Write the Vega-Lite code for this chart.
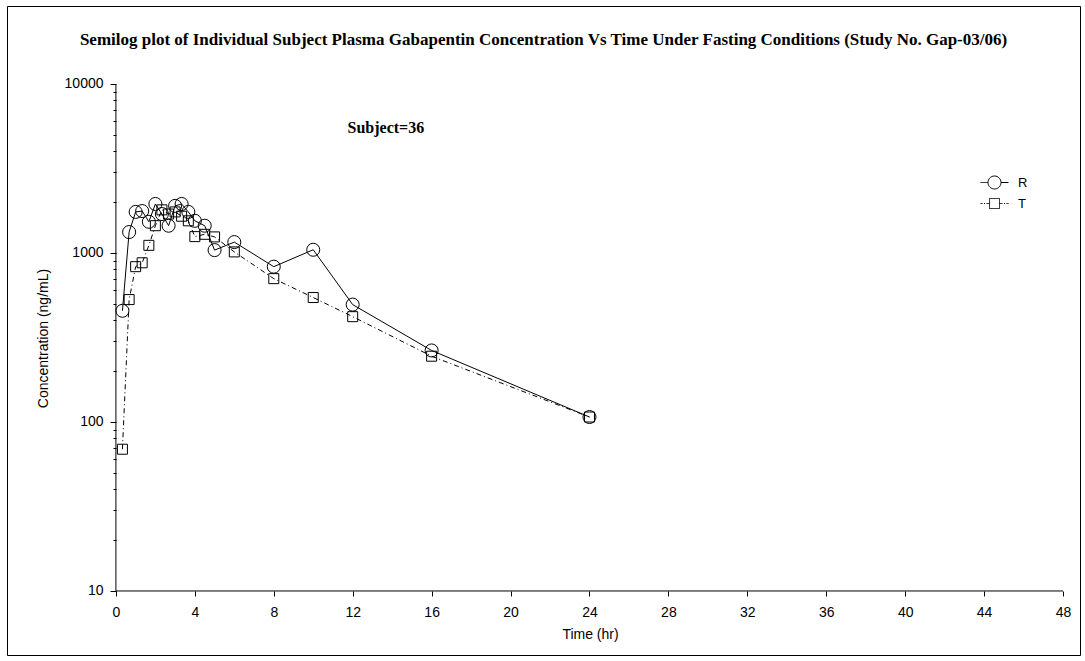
{
  "$schema": "https://vega.github.io/schema/vega-lite/v6.json",
  "width": 1073,
  "height": 649,
  "autosize": {"type": "none"},
  "padding": {"left": 7, "top": 6, "right": 5, "bottom": 6},
  "background": "white",
  "title": {
    "text": "Semilog plot of Individual Subject Plasma Gabapentin Concentration Vs Time Under Fasting Conditions (Study No. Gap-03/06)",
    "font": "Liberation Serif",
    "fontSize": 17,
    "fontWeight": "bold",
    "color": "black",
    "anchor": "middle",
    "offset": -43
  },
  "config": {
    "view": {"stroke": "black", "strokeWidth": 1},
    "axis": {
      "domainColor": "black",
      "tickColor": "black",
      "labelColor": "black",
      "titleColor": "black",
      "labelFont": "Liberation Sans",
      "titleFont": "Liberation Sans",
      "labelFontSize": 14,
      "titleFontSize": 14,
      "titleFontWeight": "normal",
      "grid": false
    }
  },
  "data": {
    "values": [
      {"series": "R", "time": 0.33, "conc": 455},
      {"series": "R", "time": 0.67, "conc": 1330},
      {"series": "R", "time": 1, "conc": 1750},
      {"series": "R", "time": 1.33, "conc": 1770},
      {"series": "R", "time": 1.67, "conc": 1530},
      {"series": "R", "time": 2, "conc": 1950},
      {"series": "R", "time": 2.33, "conc": 1700},
      {"series": "R", "time": 2.67, "conc": 1450},
      {"series": "R", "time": 3, "conc": 1900},
      {"series": "R", "time": 3.33, "conc": 1950},
      {"series": "R", "time": 3.67, "conc": 1750},
      {"series": "R", "time": 4, "conc": 1550},
      {"series": "R", "time": 4.5, "conc": 1450},
      {"series": "R", "time": 5, "conc": 1040},
      {"series": "R", "time": 6, "conc": 1160},
      {"series": "R", "time": 8, "conc": 830},
      {"series": "R", "time": 10, "conc": 1045},
      {"series": "R", "time": 12, "conc": 495},
      {"series": "R", "time": 16, "conc": 265},
      {"series": "R", "time": 24, "conc": 107},
      {"series": "T", "time": 0.33, "conc": 69},
      {"series": "T", "time": 0.67, "conc": 530},
      {"series": "T", "time": 1, "conc": 830},
      {"series": "T", "time": 1.33, "conc": 875},
      {"series": "T", "time": 1.67, "conc": 1110},
      {"series": "T", "time": 2, "conc": 1450},
      {"series": "T", "time": 2.33, "conc": 1800},
      {"series": "T", "time": 2.67, "conc": 1700},
      {"series": "T", "time": 3, "conc": 1750},
      {"series": "T", "time": 3.33, "conc": 1650},
      {"series": "T", "time": 3.67, "conc": 1550},
      {"series": "T", "time": 4, "conc": 1250},
      {"series": "T", "time": 4.5, "conc": 1290},
      {"series": "T", "time": 5, "conc": 1245},
      {"series": "T", "time": 6, "conc": 1015},
      {"series": "T", "time": 8, "conc": 705},
      {"series": "T", "time": 10, "conc": 545},
      {"series": "T", "time": 12, "conc": 420},
      {"series": "T", "time": 16, "conc": 245},
      {"series": "T", "time": 24, "conc": 107}
    ]
  },
  "layer": [
    {
      "data": {"values": [{}]},
      "mark": {"type": "rule", "color": "black", "strokeWidth": 1},
      "encoding": {
        "x": {"datum": 0, "type": "quantitative"},
        "y": {"datum": 10, "type": "quantitative"},
        "y2": {"datum": 10000}
      }
    },
    {
      "data": {"values": [{}]},
      "mark": {"type": "rule", "color": "black", "strokeWidth": 1},
      "encoding": {
        "x": {"datum": 0, "type": "quantitative"},
        "x2": {"datum": 48},
        "y": {"datum": 10, "type": "quantitative"}
      }
    },
    {
      "transform": [{"filter": "datum.series === 'R'"}],
      "mark": {"type": "line", "strokeWidth": 1},
      "encoding": {
        "x": {
          "field": "time",
          "type": "quantitative",
          "scale": {"domain": [-5.52, 48.86], "nice": false, "zero": false},
          "axis": {
            "title": "Time (hr)",
            "values": [0, 4, 8, 12, 16, 20, 24, 28, 32, 36, 40, 44, 48],
            "domain": false,
            "offset": -64,
            "tickSize": 5,
            "labelPadding": 9,
            "titlePadding": 8,
            "titleX": 583,
            "labelFlush": false,
            "labelOverlap": false
          }
        },
        "y": {
          "field": "conc",
          "type": "quantitative",
          "scale": {"type": "log", "domain": [4.18, 28940], "nice": false},
          "axis": {
            "title": "Concentration (ng/mL)",
            "values": [10, 20, 30, 40, 50, 60, 70, 80, 90, 100, 200, 300, 400, 500, 600, 700, 800, 900, 1000, 2000, 3000, 4000, 5000, 6000, 7000, 8000, 9000, 10000],
            "format": "d",
            "labelExpr": "indexof([10,100,1000,10000], datum.value) >= 0 ? datum.label : ''",
            "tickSize": {"condition": {"test": "indexof([10,100,1000,10000], datum.value) >= 0", "value": 6}, "value": 3},
            "domain": false,
            "offset": -109,
            "labelPadding": 7,
            "titlePadding": 14,
            "titleY": 332,
            "labelFlush": false,
            "labelOverlap": false
          }
        },
        "color": {
          "datum": "R",
          "type": "nominal",
          "scale": {"domain": ["R", "T"], "range": ["black", "black"]},
          "legend": {
            "title": null,
            "orient": "none",
            "legendX": 977,
            "legendY": 166,
            "padding": 0,
            "rowPadding": 2,
            "symbolSize": 400,
            "labelOffset": 13,
            "labelFont": "Liberation Sans",
            "labelFontSize": 13,
            "labelColor": "black",
            "encode": {
              "symbols": {
                "update": {
                  "shape": [
                    {"test": "datum.value === 'R'", "value": "M-1.4,0H-0.65M0.65,0H1.4M0.65,0A0.65,0.65,0,1,1,-0.65,0A0.65,0.65,0,1,1,0.65,0"},
                    {"value": "M-1.4,0H-1.2M-1.05,0H-0.95M-0.8,0H-0.5M0.5,0H0.8M0.95,0H1.05M1.2,0H1.4M-0.5,-0.5H0.5V0.5H-0.5Z"}
                  ],
                  "stroke": {"value": "black"},
                  "fill": {"value": "transparent"},
                  "strokeWidth": {"value": 1},
                  "strokeDash": {"value": [1, 0]},
                  "size": {"value": 400},
                  "opacity": {"value": 1}
                }
              }
            }
          }
        }
      }
    },
    {
      "transform": [{"filter": "datum.series === 'T'"}],
      "mark": {"type": "line", "strokeWidth": 1, "strokeDash": [5, 3, 1, 3]},
      "encoding": {
        "x": {"field": "time", "type": "quantitative"},
        "y": {"field": "conc", "type": "quantitative"},
        "color": {"datum": "T", "type": "nominal"}
      }
    },
    {
      "transform": [{"filter": "datum.series === 'R'"}],
      "mark": {"type": "point", "shape": "circle", "filled": false, "color": "black", "strokeWidth": 1, "opacity": 1, "size": 170},
      "encoding": {
        "x": {"field": "time", "type": "quantitative"},
        "y": {"field": "conc", "type": "quantitative"}
      }
    },
    {
      "transform": [{"filter": "datum.series === 'T'"}],
      "mark": {"type": "point", "shape": "square", "filled": false, "color": "black", "strokeWidth": 1, "opacity": 1, "size": 100},
      "encoding": {
        "x": {"field": "time", "type": "quantitative"},
        "y": {"field": "conc", "type": "quantitative"}
      }
    },
    {
      "data": {"values": [{}]},
      "mark": {"type": "text", "font": "Liberation Serif", "fontSize": 16, "fontWeight": "bold", "color": "black", "align": "center", "baseline": "middle"},
      "encoding": {
        "text": {"value": "Subject=36"},
        "x": {"datum": 13.68, "type": "quantitative"},
        "y": {"datum": 5495, "type": "quantitative"}
      }
    }
  ]
}
